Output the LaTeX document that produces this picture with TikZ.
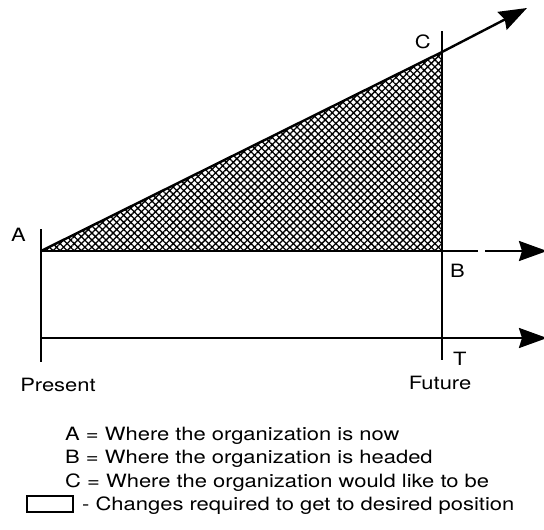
\documentclass[tikz,border=0pt]{standalone}
\usepackage{fontspec}
\setmainfont[FakeStretch=1.2]{TeX Gyre Heros}
\usetikzlibrary{arrows.meta, patterns.meta, positioning, calc}

\begin{document}
\begin{tikzpicture}[x=1pt, y=-1pt,
	axis/.style={line width=2.4pt},
	tick/.style={line width=1.5pt},
	arrow/.style={-{Stealth[length=28pt, width=20pt, inset=3pt]}, line width=2.4pt},
	label/.style={font=\fontsize{18.3}{22}\selectfont, inner sep=0pt},
	legend/.style={font=\fontsize{18.3}{22}\selectfont, inner sep=0pt, anchor=base west},
	keybox/.style={rectangle, draw, line width=2.2pt, minimum width=46pt, minimum height=16pt, inner sep=0pt},
	every node/.style={align=center}
	]
	\useasboundingbox (0,0) rectangle (544,530);
	% points of the chart
	\coordinate (a) at (41,251);
	\coordinate (b) at (442,251);
	\coordinate (c) at (442,52);
	\coordinate (t0) at (41,338);
	\coordinate (t) at (442,338);
	\coordinate (aTop) at (41,229);
	\coordinate (aBot) at (41,362);
	\coordinate (cTop) at (442,31);
	\coordinate (fBot) at (442,360);
	\coordinate (bGap) at (478,251);
	\coordinate (bArr) at (485,251);
	\coordinate (bEnd) at (547,251);
	\coordinate (tEnd) at (547,338);
	\coordinate (cEnd) at (527,8);

	% gap between where we go and where we want to be
	\fill[pattern={Hatch[angle=45, distance=5pt, line width=1.3pt]}] (a) -- (c) -- (b) -- cycle;
	\draw[axis] (a) -- (c);
	\draw[axis] (a) -- (b) -- (bGap);
	\draw[arrow] (bArr) -- (bEnd);
	\draw[arrow] (c) -- (cEnd);
	\draw[axis] (t0) -- (t);
	\draw[arrow] (t) -- (tEnd);
	\draw[tick] (aTop) -- (aBot);
	\draw[tick] (cTop) -- (fBot);

	\node[label, above left=9pt and 15pt of a] (la-mark) {A};
	\node[label, above left=3pt and 11pt of c] (lc-mark) {C};
	\node[label, below right=12.5pt and 8pt of b] (lb-mark) {B};
	\node[label, below right=13.5pt and 11pt of t] (lt-mark) {T};
	\node[label, below=16pt of aBot, xshift=17pt] (present) {Present};
	\node[label, below=16pt of fBot, xshift=-2pt] (future) {Future};

	% key
	\node[legend] (la) at (65,440) {A = Where the organization is now};
	\node[legend] (lb) at ($(la.base west)+(0,23.5)$) {B = Where the organization is headed};
	\node[legend] (lc) at ($(lb.base west)+(0,23.5)$) {C = Where the organization would like to be};
	\node[keybox] (key) at (50,504) {};
	\node[legend] (ld) at ($(lc.base west)+(17,23.5)$) {- Changes required to get to desired position};
\end{tikzpicture}
\end{document}
